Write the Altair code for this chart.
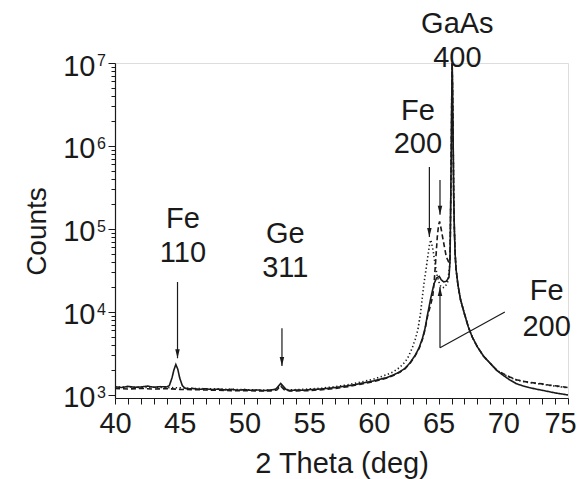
import altair as alt
import pandas as pd

FONT = "Liberation Sans"
INK = "#1a1a1a"

# ---- solid curve (lower tail), Fe 110 + Ge 311 + Fe 200 shoulder ----
s_x = [40.0, 40.5, 41.0, 41.5, 42.0, 42.5, 43.0, 43.5, 44.0, 44.2, 44.4, 44.55, 44.7, 44.85, 45.0, 45.2, 45.4, 45.7,
       46.0, 46.5, 47.0, 47.5, 48.0, 48.5, 49.0, 49.5, 50.0, 50.5, 51.0, 51.5, 52.0, 52.4, 52.6, 52.8, 53.0, 53.2,
       53.5, 54.0, 54.5, 55.0, 55.5, 56.0, 56.5, 57.0, 57.5, 58.0, 58.5, 59.0, 59.5, 60.0, 60.5, 61.0, 61.5, 62.0,
       62.4, 62.8, 63.2, 63.5, 63.75, 63.95, 64.15, 64.4, 64.65, 64.85, 65.05, 65.2, 65.4, 65.6, 65.8, 65.88]
s_y = [1260, 1230, 1270, 1240, 1250, 1280, 1240, 1260, 1250, 1300, 1600, 2000, 2330, 2050, 1600, 1300, 1210, 1180,
       1200, 1170, 1190, 1160, 1180, 1150, 1170, 1140, 1160, 1140, 1150, 1130, 1150, 1170, 1260, 1380, 1270, 1170,
       1130, 1150, 1140, 1160, 1170, 1185, 1205, 1230, 1260, 1290, 1330, 1380, 1430, 1480, 1550, 1620, 1740, 1900,
       2090, 2450, 3020, 3720, 4790, 6310, 9330, 14800, 21900, 25700, 26900, 24500, 23000, 23500, 26000, 40000]
s_tail_x = [70.0, 70.5, 71.0, 71.5, 72.0, 72.5, 73.0, 73.5, 74.0, 74.5, 75.0]
s_tail_y = [1720, 1520, 1370, 1290, 1230, 1180, 1140, 1100, 1060, 1030, 1000]

# ---- dashed curve (upper tail), strong Fe 200 peak ----
d_x = [40.0, 41.0, 42.0, 43.0, 44.0, 45.0, 46.0, 47.0, 48.0, 49.0, 50.0, 51.0, 52.0, 52.5, 52.8, 53.1, 53.5, 54.0,
       55.0, 56.0, 57.0, 58.0, 59.0, 60.0, 60.5, 61.0, 61.5, 62.0, 62.4, 62.8, 63.2, 63.5, 63.75, 63.95, 64.15,
       64.4, 64.55, 64.65, 64.78, 64.9, 65.0, 65.08, 65.2, 65.35, 65.6, 65.81, 65.89]
d_y = [1200, 1180, 1200, 1180, 1190, 1170, 1160, 1150, 1140, 1130, 1130, 1120, 1120, 1150, 1280, 1150, 1120, 1120,
       1130, 1160, 1200, 1260, 1350, 1450, 1520, 1600, 1720, 1880, 2070, 2420, 2980, 3650, 4650, 6100, 8900,
       12500, 15500, 22000, 42000, 80000, 112000, 123000, 100000, 74000, 46000, 39000, 45000]
d_tail_x = [70.0, 70.5, 71.0, 71.5, 72.0, 72.5, 73.0, 73.5, 74.0, 74.5, 75.0]
d_tail_y = [1800, 1650, 1530, 1470, 1420, 1390, 1360, 1320, 1290, 1260, 1230]

# ---- dotted curve, Fe 200 peak shifted to lower angle ----
t_x = [40.0, 41.0, 42.0, 43.0, 44.0, 45.0, 46.0, 47.0, 48.0, 49.0, 50.0, 51.0, 52.0, 52.5, 52.8, 53.1, 53.5,
       54.0, 55.0, 56.0, 57.0, 58.0, 59.0, 60.0, 60.5, 61.0, 61.5, 62.0, 62.3, 62.6, 62.97, 63.2, 63.4, 63.6,
       63.87, 64.13, 64.3, 64.4, 64.57, 64.72, 64.9, 65.1, 65.3, 65.5, 65.7, 65.88]
t_y = [1240, 1250, 1230, 1240, 1230, 1220, 1200, 1190, 1180, 1170, 1160, 1150, 1150, 1180, 1300, 1180, 1150,
       1160, 1180, 1210, 1260, 1330, 1430, 1560, 1650, 1760, 1900, 2150, 2400, 2750, 3700, 4700, 6100, 9500,
       22000, 42000, 65000, 74000, 56000, 39000, 27000, 21000, 19500, 20000, 23000, 38000]
t_tail_x = [70.0, 70.5, 71.0, 71.5, 72.0, 72.5, 73.0, 73.5, 74.0, 74.5, 75.0]
t_tail_y = [1780, 1640, 1520, 1460, 1410, 1380, 1350, 1310, 1280, 1250, 1220]

# ---- GaAs 400 substrate peak, common to all scans ----
p_x = [65.94, 65.99, 66.02, 66.05, 66.08, 66.12, 66.17, 66.22, 66.28, 66.35, 66.5, 66.7, 67.0, 67.3, 67.6,
       68.0, 68.5, 69.0, 69.5]
p_y = [220000, 1200000, 4000000, 10000000, 5000000, 1500000, 250000, 100000, 50000, 33000, 21000, 14000, 9500,
       6600, 5000, 3800, 2900, 2400, 1980]

# ---- annotations ----
lab_text = ["Fe", "110", "Ge", "311", "Fe", "200", "GaAs", "400", "Fe", "200"]
lab_x = [45.25, 45.25, 53.16, 53.16, 63.4, 63.4, 66.45, 66.45, 73.35, 73.35]
lab_y = [103000, 40000, 67000, 26400, 2060000, 824000, 23000000, 8960000, 14000, 5140]

seg_x = [44.83, 52.9, 64.29, 65.11, 65.11, 70.12]
seg_y = [23000, 6350, 560000, 390000, 3700, 10000]
seg_x2 = [44.83, 52.9, 64.29, 65.11, 65.11, 65.11]
seg_y2 = [2770, 2230, 80000, 148000, 20000, 3700]

head_x = [44.83, 52.9, 64.29, 65.11, 65.11]
head_y = [2770, 2230, 80000, 148000, 20000]
head_dir = ["down", "down", "down", "down", "up"]

x_ticks = list(range(40, 76))
y_ticks = [m * 10 ** e for e in range(3, 7) for m in range(1, 10)] + [10 ** 7]
decades = [1000, 10000, 100000, 1000000, 10000000]
exponents = ["3", "4", "5", "6", "7"]

rows = []
for name, xs, ys in [
    ("solid", s_x + p_x + s_tail_x, s_y + p_y + s_tail_y),
    ("dashed", d_x + p_x + d_tail_x, d_y + p_y + d_tail_y),
    ("dotted", t_x + p_x + t_tail_x, t_y + p_y + t_tail_y),
]:
    for xv, yv in zip(xs, ys):
        rows.append({"series": name, "x": xv, "y": yv})
curves = pd.DataFrame(rows)

labels = pd.DataFrame({"text": lab_text, "x": lab_x, "y": lab_y})
segs = pd.DataFrame({"x": seg_x, "y": seg_y, "x2": seg_x2, "y2": seg_y2})
heads = pd.DataFrame({"x": head_x, "y": head_y, "dir": head_dir})
exps = pd.DataFrame({"y": decades, "e": exponents})

major_test = " || ".join(f"datum.value == {d}" for d in decades)

xscale = alt.Scale(domain=[40, 75], nice=False, zero=False)
yscale = alt.Scale(type="log", domain=[920, 10000000], nice=False)

x_axis = alt.Axis(
    values=x_ticks, labelExpr="datum.value % 5 == 0 ? '' + datum.value : ''", grid=False,
    tickSize=6, tickColor=INK, domainColor=INK, domainWidth=1.2, tickWidth=1,
    labelFont=FONT, labelFontSize=29, labelColor=INK, labelPadding=28, labelBaseline="alphabetic",
    labelOffset={"condition": {"test": "datum.value == 75", "value": -8}, "value": 0},
    labelOverlap=False, labelFlush=False, labelBound=False,
    title="2 Theta (deg)", titleFont=FONT, titleFontSize=29, titleFontWeight="normal", titleColor=INK,
    titleY=74, titleBaseline="alphabetic",
)
y_axis = alt.Axis(
    values=y_ticks, labelExpr=f"({major_test}) ? '10' : ''", grid=False,
    tickSize={"condition": {"test": major_test, "value": 7}, "value": 4},
    tickColor=INK, domainColor=INK, domainWidth=1.2, tickWidth=1,
    labelFont=FONT, labelFontSize=29, labelColor=INK, labelPadding=13, labelBaseline="middle",
    labelOffset=3, labelOverlap=False, labelFlush=False, labelBound=False,
    title="Counts", titleFont=FONT, titleFontSize=28, titleFontWeight="normal", titleColor=INK,
    titleX=-70, titleY=168, titleAngle=-90, titleBaseline="alphabetic", titleAlign="center",
)

ax = alt.X("x:Q", scale=xscale, axis=x_axis)
ay = alt.Y("y:Q", scale=yscale, axis=y_axis)

lines = alt.Chart(curves).mark_line(strokeWidth=1.6, color=INK).encode(
    x=ax, y=ay,
    strokeDash=alt.StrokeDash(
        "series:N",
        scale=alt.Scale(domain=["solid", "dashed", "dotted"], range=[[1, 0], [5, 3], [1.3, 2.5]]),
        legend=None,
    ),
    detail="series:N",
)

seg_layer = alt.Chart(segs).mark_rule(color=INK, strokeWidth=1.2).encode(
    x=ax, y=ay, x2="x2:Q", y2="y2:Q"
)

heads_down = alt.Chart(heads).transform_filter("datum.dir == 'down'").mark_point(
    shape="M-0.5,-2L0.5,-2L0,0Z", size=81, filled=True, color=INK, opacity=1
).encode(x=ax, y=ay)
heads_up = alt.Chart(heads).transform_filter("datum.dir == 'up'").mark_point(
    shape="M-0.5,2L0.5,2L0,0Z", size=81, filled=True, color=INK, opacity=1
).encode(x=ax, y=ay)

text_layer = alt.Chart(labels).mark_text(
    font=FONT, fontSize=29, color=INK, align="center", baseline="alphabetic"
).encode(x=ax, y=ay, text="text:N")

exp_layer = alt.Chart(exps).mark_text(
    font=FONT, fontSize=16, color=INK, align="left", baseline="top", dy=-10
).encode(y=ay, x=alt.value(-18), text="e:N")

chart = alt.layer(lines, seg_layer, heads_down, heads_up, text_layer, exp_layer).properties(
    width=453, height=335,
    autosize=alt.AutoSizeParams(type="none"),
    padding={"left": 107, "top": 55, "right": 9, "bottom": 81},
).configure_view(stroke=None).configure(background="white")

chart.save("out.html", embed_options={"renderer": "svg", "actions": False})
